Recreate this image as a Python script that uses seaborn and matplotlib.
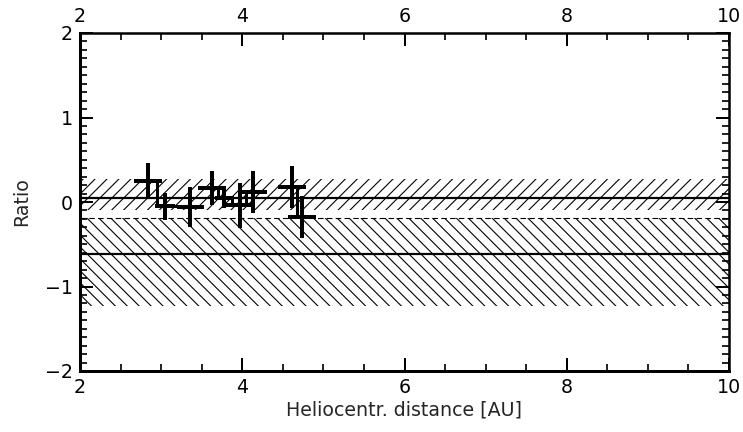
import numpy as np
import pandas as pd
import matplotlib
matplotlib.use("Agg")
import matplotlib.pyplot as plt
import seaborn as sns
from matplotlib.ticker import MultipleLocator

# ---- data ----
dist = [2.84, 3.05, 3.36, 3.63, 3.78, 3.97, 4.13, 4.61, 4.74]
ratio = [0.25, -0.05, -0.06, 0.17, 0.05, -0.04, 0.12, 0.18, -0.18]
ratio_err = [0.21, 0.16, 0.24, 0.20, 0.12, 0.27, 0.25, 0.25, 0.25]
dist_err = [0.17, 0.12, 0.17, 0.17, 0.12, 0.17, 0.17, 0.17, 0.17]
group = [1, 1, 1, 2, 2, 2, 2, 3, 3]

band1_center = 0.05
band1_lo, band1_hi = -0.10, 0.27
band2_center = -0.62
band2_lo, band2_hi = -1.23, -0.19

x_ticks = [2, 4, 6, 8, 10]
y_ticks = [-2, -1, 0, 1, 2]

DPI = 143
W, H = 743, 432
def pt(px):
    return px * 72.0 / DPI

sns.set_style("ticks")
plt.rcParams["font.family"] = ["DejaVu Sans"]
plt.rcParams["hatch.linewidth"] = pt(1.1)

fig = plt.figure(figsize=(W / DPI, H / DPI), dpi=DPI)
ax = fig.add_axes([80 / W, 1 - 371 / H, (729 - 80) / W, (371 - 33) / H])

ax.set_xlim(2, 10)
ax.set_ylim(-2, 2)

# hatched bands
ax.fill_between([2, 10], band1_lo, band1_hi, facecolor="none", edgecolor="black",
                hatch="////", linewidth=0)
ax.fill_between([2, 10], band2_lo, band2_hi, facecolor="none", edgecolor="black",
                hatch="\\\\\\\\", linewidth=0)
ax.axhline(band1_center, color="black", lw=pt(2.2))
ax.axhline(band2_center, color="black", lw=pt(2.2))
ax.axhline(band2_hi, color="black", lw=pt(1.1), dashes=(5, 3))

# data: step line + error crosses
df = pd.DataFrame({"dist": dist, "ratio": ratio, "group": group})
sns.lineplot(data=df, x="dist", y="ratio", units="group", drawstyle="steps-mid",
             color="black", lw=pt(3.0), estimator=None, sort=False, ax=ax)
ax.errorbar(dist, ratio, xerr=dist_err, yerr=ratio_err, fmt="none",
            ecolor="black", elinewidth=pt(4), capsize=0)

# ticks
fs = pt(19)
ax.xaxis.set_minor_locator(MultipleLocator(0.5))
ax.yaxis.set_minor_locator(MultipleLocator(0.1))
ax.set_xticks(x_ticks)
ax.set_xticklabels([str(v) for v in x_ticks])
ax.set_yticks(y_ticks)
ax.set_yticklabels([str(v).replace("-", "\u2212") for v in y_ticks])
ax.tick_params(which="major", direction="in", length=pt(13), width=pt(2),
               top=True, right=True, labeltop=True, labelright=False,
               labelsize=fs, pad=pt(7), colors="black")
ax.tick_params(which="minor", direction="in", length=pt(7), width=pt(2),
               top=True, right=True)

for side in ["left", "bottom"]:
    ax.spines[side].set_linewidth(pt(3))
for side in ["top", "right"]:
    ax.spines[side].set_linewidth(pt(2.5))
for s in ax.spines.values():
    s.set_color("black")

ax.set_xlabel("Heliocentr. distance [AU]", fontsize=fs, labelpad=pt(4))
ax.set_ylabel("Ratio", fontsize=fs, labelpad=pt(14))

fig.savefig("out.png", dpi=DPI)
